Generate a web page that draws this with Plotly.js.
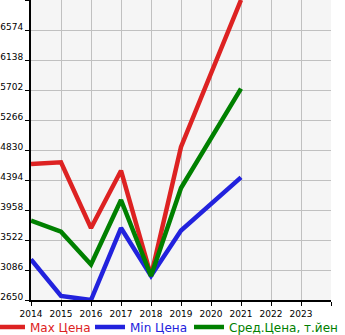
<!DOCTYPE html>
<html>
<head>
<meta charset="utf-8">
<script src="https://cdn.plot.ly/plotly-3.0.1.min.js"></script>
<style>html,body{margin:0;padding:0;background:#fff;}#chart{width:345px;height:335px;}</style>
</head>
<body>
<div id="chart"></div>
<script>
const years = [2014, 2015, 2016, 2017, 2018, 2019, 2021];
const maxPrice = [4626, 4651, 3696, 4529, 3000, 4874, 7010];
const minPrice = [3241, 2708, 2650, 3696, 3000, 3660, 4433];
const avgPrice = [3803, 3643, 3166, 4103, 3000, 4278, 5721];
const seriesNames = ['Max Цена', 'Min Цена', 'Сред.Цена, т.йен'];
const seriesColors = ['#dd2222', '#2222dd', '#008000'];
const xTicks = [2014, 2015, 2016, 2017, 2018, 2019, 2020, 2021, 2022, 2023, 2024];
const xTickText = ['2014', '2015', '2016', '2017', '2018', '2019', '2020', '2021', '2022', '2023', ''];
const yTicks = [2650, 3086, 3522, 3958, 4394, 4830, 5266, 5702, 6138, 6574, 7010];
const yTickText = ['2650', '3086', '3522', '3958', '4394', '4830', '5266', '5702', '6138', '6574', ''];

const allSeries = [maxPrice, minPrice, avgPrice];
const legendIds = ['legend', 'legend2', 'legend3'];
const traces = allSeries.map((vals, i) => ({
  x: years,
  y: vals,
  type: 'scatter',
  mode: 'lines',
  name: '<span style="color:' + seriesColors[i] + '">' + seriesNames[i] + '</span>',
  line: {color: seriesColors[i], width: 4.5},
  legend: legendIds[i],
  cliponaxis: true
}));

function legendAt(xpos) {
  return {
    orientation: 'h',
    x: xpos,
    xanchor: 'left',
    y: -0.09,
    yanchor: 'middle',
    font: {family: 'DejaVu Sans', size: 12},
    bgcolor: 'rgba(0,0,0,0)',
    itemwidth: 30
  };
}

const layout = {
  width: 345,
  height: 335,
  margin: {l: 31, r: 14, t: 0, b: 35, autoexpand: false},
  paper_bgcolor: '#ffffff',
  plot_bgcolor: '#f5f5f5',
  font: {family: 'DejaVu Sans', size: 9, color: '#000'},
  showlegend: true,
  legend: legendAt(-0.1367),
  legend2: legendAt(0.1967),
  legend3: legendAt(0.5267),
  xaxis: {
    range: [2014, 2024],
    tickvals: xTicks,
    ticktext: xTickText,
    showgrid: true,
    gridcolor: '#c0c0c0',
    gridwidth: 1,
    showline: true,
    linecolor: '#000',
    linewidth: 2,
    ticks: 'outside',
    ticklen: 4,
    tickcolor: '#000',
    zeroline: false,
    fixedrange: true
  },
  yaxis: {
    range: [2650, 7010],
    tickvals: yTicks,
    ticktext: yTickText,
    ticklabelshift: -3,
    showgrid: true,
    gridcolor: '#c0c0c0',
    gridwidth: 1,
    showline: true,
    linecolor: '#000',
    linewidth: 2,
    ticks: 'outside',
    ticklen: 4,
    tickcolor: '#000',
    zeroline: false,
    fixedrange: true
  }
};

Plotly.newPlot('chart', traces, layout, {displayModeBar: false, staticPlot: true});
</script>
</body>
</html>
